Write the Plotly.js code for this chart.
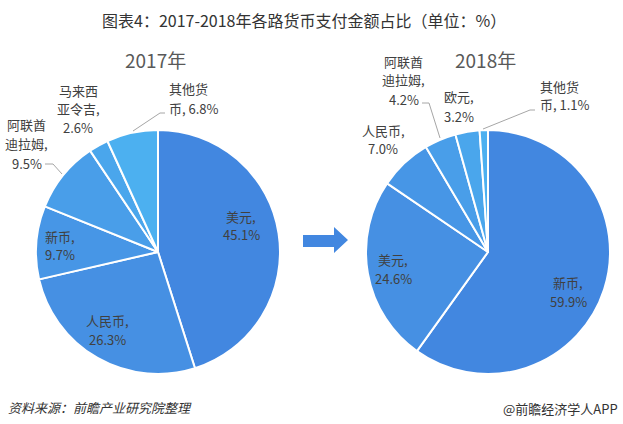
<!DOCTYPE html>
<html><head><meta charset="utf-8">
<script src="https://cdn.plot.ly/plotly-3.0.1.min.js"></script>
<style>html,body{margin:0;padding:0;background:#fff;}#chart{width:623px;height:424px;}</style>
</head><body><div id="chart"></div>
<script>
// ---- data ----
const labels2017 = ['美元', '人民币', '新币', '阿联酋迪拉姆', '马来西亚令吉', '其他货币'];
const values2017 = [45.1, 26.3, 9.7, 9.5, 2.6, 6.8];
const wrapped2017 = [['美元'], ['人民币'], ['新币'], ['阿联酋', '迪拉姆'], ['马来西', '亚令吉'], ['其他货', '币']];
const labels2018 = ['新币', '美元', '人民币', '阿联酋迪拉姆', '欧元', '其他货币'];
const values2018 = [59.9, 24.6, 7.0, 4.2, 3.2, 1.1];
const wrapped2018 = [['新币'], ['美元'], ['人民币'], ['阿联酋', '迪拉姆'], ['欧元'], ['其他货', '币']];
const sliceColors = ['#4287e0', '#4690e3', '#4796e6', '#499ee9', '#4aa6ec', '#4cb0f0'];
const titleText = '图表4：2017-2018年各路货币支付金额占比（单位：%）';
const yearTitles = ['2017年', '2018年'];
const sourceText = '资料来源：前瞻产业研究院整理';
const brandText = '@前瞻经济学人APP';

const W = 623, H = 424;
const px = x => x / W;
const py = y => 1 - y / H;
const FONT = '"Noto Sans CJK SC", "Microsoft YaHei", sans-serif';
const LABEL_SIZE = 13, LINE_GAP = 19;

function pieTrace(labels, values, domainX) {
  return {
    type: 'pie', labels: labels, values: values, sort: false, direction: 'clockwise', rotation: 0,
    marker: {colors: sliceColors, line: {color: '#ffffff', width: 2}},
    textinfo: 'none', hoverinfo: 'label+percent', showlegend: false,
    domain: {x: domainX, y: [py(374), py(130)]}
  };
}

const traces = [
  pieTrace(labels2017, values2017, [px(36), px(280)]),
  pieTrace(labels2018, values2018, [px(366), px(610)])
];

function pct(v) { return v.toFixed(1) + '%'; }
// build the text lines of a slice label: wrapped name (comma after), percent on own line or same line
function labelLines(wrapped, value, sameLine) {
  const ls = wrapped.slice();
  if (sameLine) { ls[ls.length - 1] = ls[ls.length - 1] + ', ' + pct(value); }
  else { ls[ls.length - 1] = ls[ls.length - 1] + ','; ls.push(pct(value)); }
  return ls;
}
const annotations = [];
function addLabel(lines, x, yFirst, anchor) {
  lines.forEach((t, i) => annotations.push({
    text: t, xref: 'paper', yref: 'paper', x: px(x), y: py(yFirst + i * LINE_GAP), showarrow: false,
    xanchor: anchor || 'center', yanchor: 'middle',
    font: {family: FONT, size: LABEL_SIZE, color: '#404040'}
  }));
}

annotations.push(
  {text: titleText, xref: 'paper', yref: 'paper', x: px(304), y: py(20), showarrow: false,
   xanchor: 'center', yanchor: 'middle', font: {family: FONT, size: 16, color: '#333333'}},
  {text: yearTitles[0], xref: 'paper', yref: 'paper', x: px(155), y: py(60), showarrow: false,
   xanchor: 'center', yanchor: 'middle', font: {family: FONT, size: 19, color: '#595959'}},
  {text: yearTitles[1], xref: 'paper', yref: 'paper', x: px(485), y: py(60), showarrow: false,
   xanchor: 'center', yanchor: 'middle', font: {family: FONT, size: 19, color: '#595959'}},
  {text: sourceText, xref: 'paper', yref: 'paper', x: px(6), y: py(407), showarrow: false,
   xanchor: 'left', yanchor: 'middle', font: {family: FONT, size: 13, color: '#333333', style: 'italic'}},
  {text: brandText, xref: 'paper', yref: 'paper', x: px(620), y: py(408), showarrow: false,
   xanchor: 'right', yanchor: 'middle', font: {family: FONT, size: 13, color: '#333333'}}
);

// 2017 labels
addLabel(labelLines(wrapped2017[0], values2017[0], false), 241, 216);
addLabel(labelLines(wrapped2017[1], values2017[1], false), 107, 320);
addLabel(labelLines(wrapped2017[2], values2017[2], false), 60, 236);
addLabel(labelLines(wrapped2017[3], values2017[3], false), 27, 125);
addLabel(labelLines(wrapped2017[4], values2017[4], false), 78, 90);
addLabel(labelLines(wrapped2017[5], values2017[5], true), 167, 89, 'left');
// 2018 labels
addLabel(labelLines(wrapped2018[0], values2018[0], false), 568, 282);
addLabel(labelLines(wrapped2018[1], values2018[1], false), 393, 259);
addLabel(labelLines(wrapped2018[2], values2018[2], false), 383, 130);
addLabel(labelLines(wrapped2018[3], values2018[3], false), 404, 61);
addLabel(labelLines(wrapped2018[4], values2018[4], false), 459, 97);
addLabel(labelLines(wrapped2018[5], values2018[5], true), 538, 86, 'left');

function pathOf(pts) {
  return 'M' + pts.map(p => px(p[0]) + ',' + py(p[1])).join(' L') + ' Z';
}
function polyline(pts) {
  return {type: 'path', xref: 'paper', yref: 'paper',
    path: 'M' + pts.map(p => px(p[0]) + ',' + py(p[1])).join(' L'),
    line: {color: '#a6a6a6', width: 1}};
}
const shapes = [
  {type: 'path', xref: 'paper', yref: 'paper', fillcolor: '#4287e0', line: {width: 0},
   path: pathOf([[303, 235], [334, 235], [334, 227], [348, 240], [334, 253], [334, 247], [303, 247]])},
  polyline([[45, 164], [53, 164], [62, 174]]),
  polyline([[133, 131], [160, 113], [165, 113]]),
  polyline([[422, 103], [429, 103], [440, 138]]),
  polyline([[483, 129], [530, 110], [535, 110]])
];

Plotly.newPlot('chart', traces, {
  width: W, height: H, margin: {l: 0, r: 0, t: 0, b: 0},
  paper_bgcolor: '#ffffff', plot_bgcolor: '#ffffff',
  annotations: annotations, shapes: shapes,
  font: {family: FONT}
}, {displayModeBar: false, staticPlot: true});
</script></body></html>
